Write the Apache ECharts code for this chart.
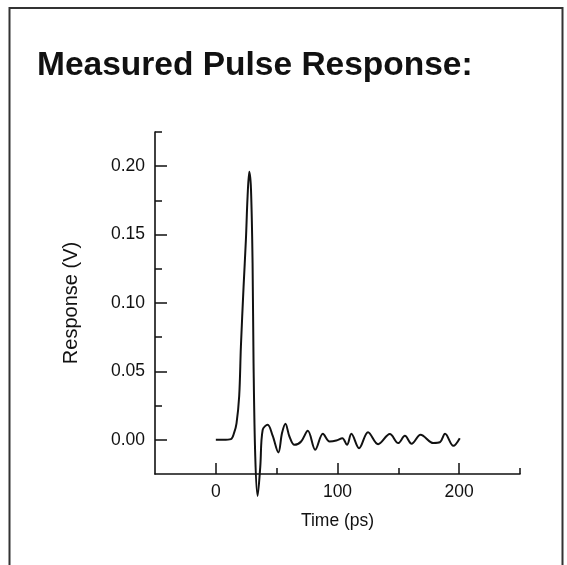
<!DOCTYPE html>
<html>
<head>
<meta charset="utf-8">
<script src="https://cdn.jsdelivr.net/npm/echarts@6/dist/echarts.min.js"></script>
<style>html,body{margin:0;padding:0;background:#fff}#c{width:567px;height:565px}</style>
</head>
<body>
<div id="c"></div>
<script>
const timePs = [0, 6, 12.4, 15, 17, 19.2, 20.6, 22.8, 24.7, 26.1, 27.5, 28.9, 30.2, 31, 32.4, 34.3, 36.5, 38.5, 42.6, 46.7, 51.4, 54.4, 57.2, 60.5, 64.6, 70.1, 75.6, 81.7, 88, 93.5, 99, 104, 107.8, 111.4, 117.7, 125.1, 133.4, 143, 149.9, 155.4, 160.9, 168.3, 178.8, 184.3, 188.4, 195.2, 200.5];
const responseV = [0, 0, 0.0005, 0.005, 0.012, 0.032, 0.068, 0.112, 0.146, 0.178, 0.196, 0.183, 0.129, 0.056, -0.012, -0.041, -0.02, 0.0073, 0.011, 0.003, -0.0093, 0.0049, 0.0117, 0.0024, -0.0037, -0.0012, 0.0066, -0.0073, 0.0044, -0.0012, -0.0005, 0.0012, -0.0037, 0.0044, -0.0061, 0.0056, -0.0032, 0.0042, -0.0024, 0.0029, -0.0029, 0.0037, -0.0024, -0.0017, 0.0044, -0.0044, 0.0012];
const yLabelValues = [0, 0.05, 0.10, 0.15, 0.20];
const yMinorValues = [0.025, 0.075, 0.125, 0.175, 0.225];
const xLabelValues = [0, 100, 200];
const xMinorValues = [50, 150, 250];

const font = '"Liberation Sans", Arial, Helvetica, sans-serif';
const chart = echarts.init(document.getElementById('c'));
const grid = {left: 155, top: 132, width: 365, height: 342};
const axisLine = {show: true, onZero: false, lineStyle: {color: '#111', width: 1.6}};
const hiddenLine = {show: false, onZero: false};
chart.setOption({
  animation: false,
  backgroundColor: '#fff',
  title: {
    text: 'Measured Pulse Response:', left: 32, top: 44,
    textStyle: {fontFamily: font, fontSize: 33.5, fontWeight: 'bold', color: '#111'}
  },
  graphic: [{
    type: 'rect', shape: {x: 9.5, y: 8, width: 553, height: 600},
    style: {fill: 'none', stroke: '#333', lineWidth: 2}, silent: true
  }],
  grid: grid,
  xAxis: [{
    type: 'value', min: -50, max: 250, position: 'bottom',
    name: 'Time (ps)', nameLocation: 'middle', nameGap: 38,
    nameTextStyle: {fontFamily: font, fontSize: 17.5, color: '#111'},
    axisLine: axisLine, splitLine: {show: false},
    axisTick: {show: true, inside: true, length: 11, customValues: xLabelValues, lineStyle: {color: '#111', width: 1.5}},
    axisLabel: {customValues: xLabelValues, margin: 9, fontFamily: font, fontSize: 17.5, color: '#111'}
  }, {
    type: 'value', min: -50, max: 250, position: 'bottom',
    axisLine: hiddenLine, splitLine: {show: false},
    axisTick: {show: true, inside: true, length: 6, customValues: xMinorValues, lineStyle: {color: '#111', width: 1.5}},
    axisLabel: {show: false}
  }],
  yAxis: [{
    type: 'value', min: -0.025, max: 0.225, position: 'left',
    name: 'Response (V)', nameLocation: 'middle', nameGap: 74,
    nameTextStyle: {fontFamily: font, fontSize: 20, color: '#111'},
    axisLine: axisLine, splitLine: {show: false},
    axisTick: {show: true, inside: true, length: 12, customValues: yLabelValues, lineStyle: {color: '#111', width: 1.5}},
    axisLabel: {customValues: yLabelValues, margin: 10, fontFamily: font, fontSize: 17.5, color: '#111',
      formatter: v => v.toFixed(2)}
  }, {
    type: 'value', min: -0.025, max: 0.225, position: 'left',
    axisLine: hiddenLine, splitLine: {show: false},
    axisTick: {show: true, inside: true, length: 7, customValues: yMinorValues, lineStyle: {color: '#111', width: 1.5}},
    axisLabel: {show: false}
  }],
  series: [{
    type: 'line', xAxisIndex: 0, yAxisIndex: 0,
    data: timePs.map((t, i) => [t, responseV[i]]),
    smooth: 0.35, showSymbol: false, clip: false,
    lineStyle: {color: '#111', width: 2}
  }]
});
</script>
</body>
</html>
